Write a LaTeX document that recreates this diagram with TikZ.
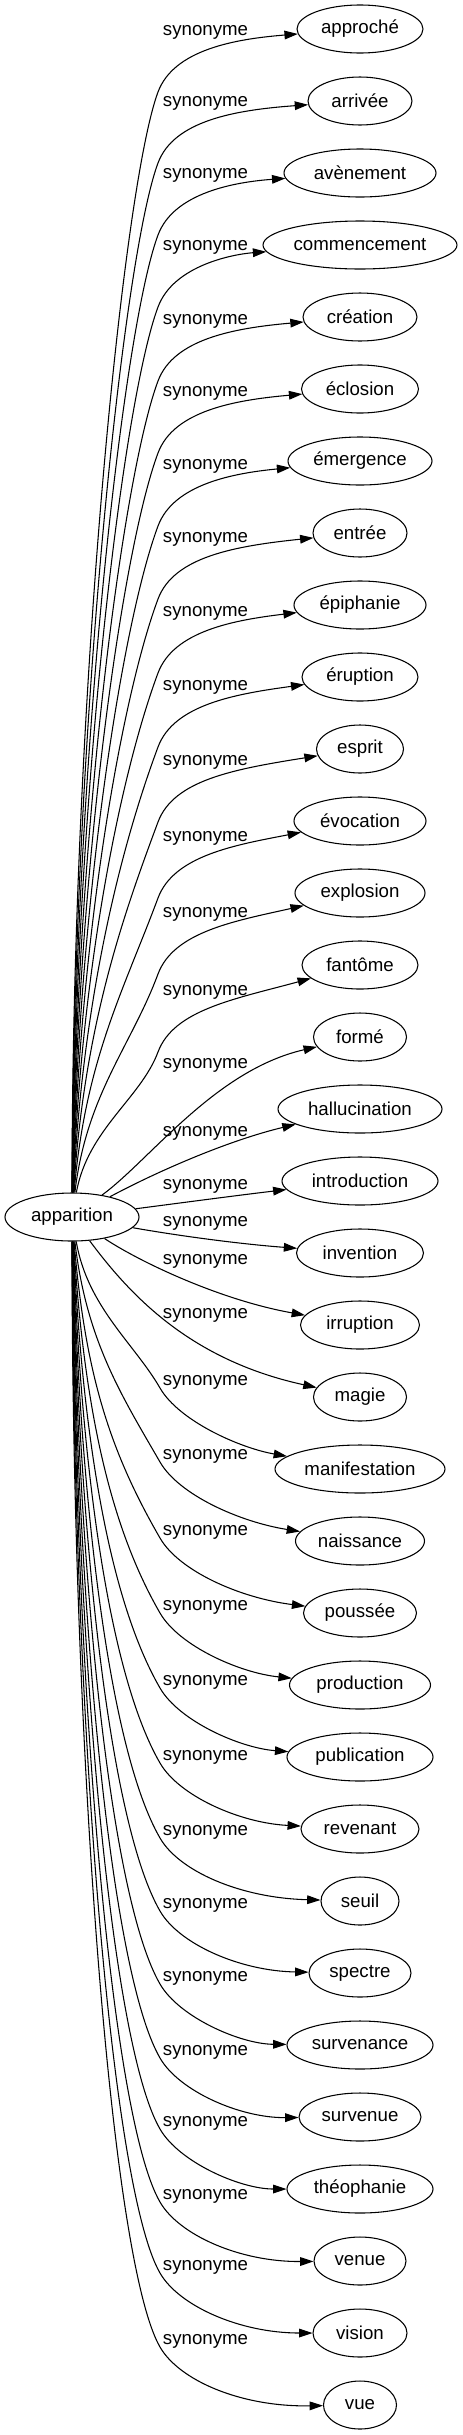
\documentclass[tikz,border=0pt]{standalone}
\usepackage{fontspec}
\setmainfont{Liberation Sans}
\usetikzlibrary{shapes.geometric,arrows.meta}
\begin{document}
\begin{tikzpicture}[x=0.75pt,y=-0.75pt,
  tgt/.style={draw,ellipse,line width=0.8pt,minimum height=36pt,inner sep=0pt,font=\fontsize{14pt}{16pt}\selectfont},
  lbl/.style={inner sep=0pt,font=\fontsize{14pt}{16pt}\selectfont},
  conn/.style={draw,line width=0.8pt,-{Triangle[length=10pt,width=6.5pt]}}]
\useasboundingbox (0,0) rectangle (462,2435);
\node[tgt,minimum width=100.5pt] (app) at (72,1217) {apparition};
\foreach \n/\t/\w [count=\i from 0] in {approche/approché/126,arrivee/arrivée/104,avenement/avènement/152,commencement/commencement/194,creation/création/114,eclosion/éclosion/117,emergence/émergence/144,entree/entrée/94,epiphanie/épiphanie/132,eruption/éruption/116,esprit/esprit/87,evocation/évocation/132,explosion/explosion/130,fantome/fantôme/116,forme/formé/93,hallucination/hallucination/164,introduction/introduction/156,invention/invention/127,irruption/irruption/119,magie/magie/93,manifestation/manifestation/170,naissance/naissance/129,poussee/poussée/113,production/production/141,publication/publication/146,revenant/revenant/118,seuil/seuil/78,spectre/spectre/102,survenance/survenance/146,survenue/survenue/122,theophanie/théophanie/146,venue/venue/92,vision/vision/94,vue/vue/73}{
  \node[tgt,minimum width=\w*0.75pt] (\n) at (360,{29+72*\i}) {\t};
}
\foreach \yl [count=\i from 0] in {32,103,175,247,321,393,466,539,613,687,762,838,914,992,1065,1133,1186,1223,1261,1315,1382,1456,1532,1607,1682,1757,1832,1905,1978,2052,2123,2196,2267,2341}{
  \node[lbl] (s\i) at (205.5,\yl) {synonyme};
}
% upper edges
\foreach \n/\yl [count=\i from 0] in {approche/32,arrivee/103,avenement/175,commencement/247,creation/321,eclosion/393,emergence/466,entree/539,epiphanie/613,eruption/687,esprit/762,evocation/838,explosion/914,fantome/992}{
  \pgfmathsetmacro\eKy{\yl+60}
  \pgfmathsetmacro\eSp{1193-\eKy}
  \pgfmathsetmacro\eCax{72+1.2*\i}
  \pgfmathsetmacro\eCay{1193-0.45*\eSp}
  \pgfmathsetmacro\eL{min(100,0.35*\eSp)}
  \pgfmathsetmacro\eCbx{158-0.35*\eL}
  \pgfmathsetmacro\eCby{\eKy+0.94*\eL}
  \pgfmathsetmacro\eCcy{\eKy-42.3}
  \pgfmathsetmacro\eCdy{\yl+7}
  \draw[conn] (app) .. controls (\eCax,\eCay) and (\eCbx,\eCby) .. (158,\eKy) .. controls (173.75,\eCcy) and (235,\eCdy) .. (\n);
}
% middle edges
\draw[conn] (app) .. controls (150,1160) and (215,1070) .. (forme);
\draw[conn] (app) .. controls (160,1170) and (230,1140) .. (hallucination);
\draw[conn] (app) .. controls (180,1203) and (240,1195) .. (introduction);
\draw[conn] (app) .. controls (180,1236) and (240,1244) .. (invention);
\draw[conn] (app) .. controls (140,1262) and (220,1300) .. (irruption);
\draw[conn] (app) .. controls (130,1295) and (190,1360) .. (magie);
% lower edges
\foreach \n/\yl/\j in {manifestation/1382/20,naissance/1456/21,poussee/1532/22,production/1607/23,publication/1682/24,revenant/1757/25,seuil/1832/26,spectre/1905/27,survenance/1978/28,survenue/2052/29,theophanie/2123/30,venue/2196/31,vision/2267/32,vue/2341/33}{
  \pgfmathsetmacro\eKy{\yl+6}
  \pgfmathsetmacro\eSp{\eKy-1241}
  \pgfmathsetmacro\eCax{72+1.2*(33-\j)}
  \pgfmathsetmacro\eCay{1241+0.45*\eSp}
  \pgfmathsetmacro\eL{min(100,0.35*\eSp)}
  \pgfmathsetmacro\eCbx{160-0.5*\eL}
  \pgfmathsetmacro\eCby{\eKy-0.866*\eL}
  \pgfmathsetmacro\eCcy{\eKy+33}
  \pgfmathsetmacro\eCdy{\yl+66}
  \draw[conn] (app) .. controls (\eCax,\eCay) and (\eCbx,\eCby) .. (160,\eKy) .. controls (179,\eCcy) and (240,\eCdy) .. (\n);
}
\end{tikzpicture}
\end{document}
